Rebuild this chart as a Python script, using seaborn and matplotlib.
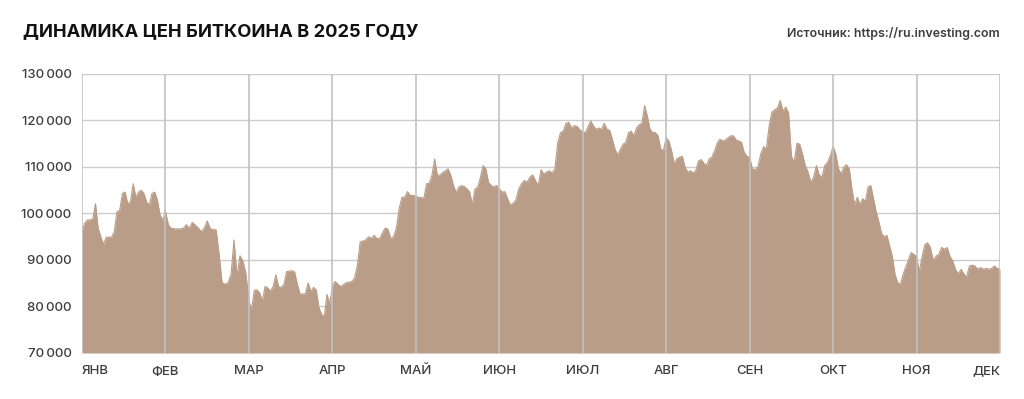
import pandas as pd
import matplotlib.pyplot as plt
import seaborn as sns

# daily BTC price (USD)
jan = [96100, 97900, 98600, 98600, 98800, 102100, 96800, 95000, 93300, 94900,
       94900, 94900, 96100, 100400, 100700, 104300, 104600, 102100, 102500, 106400,
       103500, 104600, 105000, 104300, 102500, 101800, 104300, 104600, 102900, 99600,
       98600]
feb = [100500, 97500, 96800, 96700, 96700, 96700, 96800, 97600, 96800, 98100,
       97500, 96900, 96100, 96800, 98400, 96800, 96500, 96500, 91200, 85100,
       84800, 85100, 86900, 94300, 86500, 90900, 89800, 87000]
mar = [81200, 79400, 83500, 83600, 82900, 81200, 84300, 84000, 83300, 84300,
       86800, 84300, 84100, 84700, 87500, 87600, 87700, 87400, 84700, 82700,
       82700, 82700, 85100, 83200, 84100, 83600, 79800, 78300, 77800, 82600,
       80500]
apr = [84300, 85400, 84800, 84300, 84700, 85100, 85200, 85400, 86100, 88900,
       93900, 94100, 94300, 95000, 94600, 95300, 94600, 94600, 95800, 96900,
       96600, 94600, 95000, 96800, 101000, 103500, 103500, 104700, 103900, 103900]
may = [103700, 103500, 103400, 103300, 106400, 106500, 108200, 111700, 108200, 108300,
       108800, 109200, 109600, 108200, 106000, 104500, 105700, 106000, 105800, 105300,
       104600, 101900, 105300, 105700, 107800, 110300, 109600, 106700, 106000, 105700,
       106000]
jun = [105300, 104600, 104700, 103200, 101800, 102200, 102900, 105300, 106400, 107100,
       106700, 107800, 108300, 107100, 106000, 109400, 108500, 108900, 109200, 108700,
       109600, 115200, 117400, 117700, 119400, 119600, 118400, 118900, 118700, 118000]
jul = [117500, 117400, 118700, 119900, 118800, 118100, 118400, 118100, 119400, 118100,
       117900, 116000, 113800, 112600, 113800, 114900, 115300, 117400, 117700, 116700,
       118400, 119100, 119500, 123200, 120900, 118100, 117400, 117400, 116700, 113800,
       113600]
aug = [116300, 115600, 113500, 110700, 111800, 112100, 112300, 110000, 108900, 109200,
       108700, 109200, 111300, 111600, 110800, 110300, 111800, 112100, 113500, 115200,
       116000, 115600, 115800, 116300, 116700, 116700, 115800, 115600, 115300, 113100,
       112300]
sep = [112100, 109600, 109400, 110100, 112800, 114400, 113800, 118800, 121800, 122300,
       122700, 124300, 122000, 122900, 121600, 112400, 111000, 115100, 114900, 112800,
       110300, 108900, 106700, 107800, 110300, 108300, 107800, 110300, 111000, 112400]
oct_ = [114400, 112800, 109600, 108500, 110000, 110500, 109600, 105300, 101800, 103500,
        101900, 103200, 102600, 105700, 106000, 103200, 100400, 98200, 95700, 95000,
        95300, 93000, 90800, 86900, 85100, 84800, 86900, 88500, 90100, 91600,
        91200]
nov = [90800, 87500, 90800, 93300, 93700, 92600, 89900, 90800, 91200, 92700,
       92300, 92700, 90800, 89800, 88000, 87000, 88000, 87000, 86300, 88700,
       88900, 88700, 88000, 88400, 88000, 88200, 88000, 88200, 88700, 88200]
dec = [88000]

month_labels = ["ЯНВ", "ФЕВ", "МАР", "АПР", "МАЙ", "ИЮН",
                "ИЮЛ", "АВГ", "СЕН", "ОКТ", "НОЯ", "ДЕК"]
y_ticks = [70000, 80000, 90000, 100000, 110000, 120000, 130000]

prices = jan + feb + mar + apr + may + jun + jul + aug + sep + oct_ + nov + dec
dates = pd.date_range("2025-01-01", periods=len(prices), freq="D")

df = pd.DataFrame({"date": dates, "price": prices})
# the chart gives every month the same width
df["pos"] = (df["date"].dt.month - 1) + (df["date"].dt.day - 1) / df["date"].dt.days_in_month

sns.set_theme(style="white")
plt.rcParams["font.family"] = ["Inter", "DejaVu Sans"]

fill_color = "#b99d88"
grid_color = "#cccccc"
text_color = "#3d3d3d"

fig = plt.figure(figsize=(10.24, 3.99), dpi=100)
ax = fig.add_axes([82 / 1024, 1 - 353 / 399, 918 / 1024, 279 / 399])

ax.fill_between(df["pos"], y_ticks[0], df["price"], color=fill_color, lw=0, zorder=2)
sns.lineplot(data=df, x="pos", y="price", color=fill_color, lw=0.8, ax=ax, zorder=2)

ax.set_xlim(0, 11)
ax.set_ylim(y_ticks[0], y_ticks[-1])

ax.set_yticks(y_ticks)
ax.set_yticklabels([f"{v:,}".replace(",", "\u2009") for v in y_ticks])
ax.yaxis.grid(True, color=grid_color, lw=1.0, zorder=0)
ax.set_axisbelow(True)

# vertical month lines sit on top of the area
for m in range(len(month_labels)):
    ax.axvline(m, color="#c2c2c2", lw=1.2, zorder=3)

ax.set_xticks(range(len(month_labels)))
ax.set_xticklabels(month_labels)
labels = ax.get_xticklabels()
labels[0].set_ha("left")
labels[-1].set_ha("right")

ax.tick_params(axis="y", length=0, pad=7.5, labelsize=9.5, labelcolor=text_color)
ax.tick_params(axis="x", length=0, pad=9, labelsize=9.5, labelcolor=text_color)
for lbl in ax.get_xticklabels() + ax.get_yticklabels():
    lbl.set_fontweight("medium")
ax.set_xlabel("")
ax.set_ylabel("")
for s in ax.spines.values():
    s.set_visible(False)

fig.text(23 / 1024, 1 - 32 / 399, "ДИНАМИКА ЦЕН БИТКОИНА В 2025 ГОДУ",
         fontsize=13.2, fontweight="bold", color="#111111", va="center", ha="left")
fig.text(1000 / 1024, 1 - 33 / 399, "Источник: https://ru.investing.com",
         fontsize=8.9, fontweight="semibold", color=text_color, va="center", ha="right")

fig.savefig("out.png", dpi=100, facecolor="white")
